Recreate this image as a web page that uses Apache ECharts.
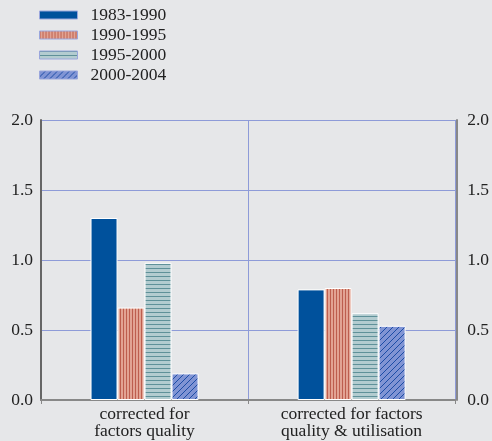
<!DOCTYPE html>
<html><head><meta charset="utf-8">
<script src="https://cdn.jsdelivr.net/npm/echarts@6/dist/echarts.min.js"></script>
<style>html,body{margin:0;padding:0;background:#e6e7e9;}#c{width:492px;height:441px;}</style>
</head><body><div id="c"></div>
<script>
const categories = ['corrected for\nfactors quality', 'corrected for factors\nquality & utilisation'];
const seriesNames = ['1983-1990', '1990-1995', '1995-2000', '2000-2004'];
const s1983 = [1.30, 0.79];
const s1990 = [0.66, 0.80];
const s1995 = [0.98, 0.62];
const s2000 = [0.19, 0.53];
const yTicks = [0, 0.5, 1.0, 1.5, 2.0];

function pat(w, h, draw) {
  const c = document.createElement('canvas');
  c.width = w; c.height = h;
  const g = c.getContext('2d');
  draw(g, w, h);
  return { image: c, repeat: 'repeat' };
}
const fill1 = '#00519c';
const fill2 = pat(3, 3, (g, w, h) => { g.fillStyle = '#e2a393'; g.fillRect(0,0,w,h); g.fillStyle = '#bd5e4e'; g.fillRect(0,0,1,h); });
const fill3 = pat(4, 4, (g, w, h) => { g.fillStyle = '#b3ccd0'; g.fillRect(0,0,w,h); g.fillStyle = '#5f9199'; g.fillRect(0,0,w,1); });
const fill4 = pat(6, 6, (g, w, h) => {
  g.fillStyle = '#8094d4'; g.fillRect(0,0,w,h);
  g.strokeStyle = '#1d4da6'; g.lineWidth = 1;
  for (let k = -1; k <= 1; k++) { g.beginPath(); g.moveTo(k*w, h); g.lineTo(k*w + w, 0); g.stroke(); }
});
const fills = [fill1, fill2, fill3, fill4];
const datas = [s1983, s1990, s1995, s2000];

const font = 'Liberation Serif';
const chart = echarts.init(document.getElementById('c'));
chart.setOption({
  backgroundColor: '#e6e7e9',
  animation: false,
  legend: {
    orient: 'vertical', left: 34, top: 1,
    icon: 'rect',
    itemWidth: 38, itemHeight: 8, itemGap: 2,
    textStyle: { fontFamily: font, fontSize: 17.5, lineHeight: 18, color: '#222', padding: [0,0,0,8] },
    itemStyle: { borderColor: '#9aa6dc', borderWidth: 1 },
    data: seriesNames
  },
  grid: { left: 41, right: 35, top: 120, bottom: 41 },
  xAxis: {
    type: 'category', data: categories,
    axisLine: { lineStyle: { color: '#888', width: 2 } },
    axisTick: { show: true, length: 4, lineStyle: { color: '#888' } },
    axisLabel: { fontFamily: font, fontSize: 17.5, color: '#222', margin: 6, lineHeight: 17 },
    splitLine: { show: true, lineStyle: { color: '#8e9bd8', width: 1 } }
  },
  yAxis: [{
    type: 'value', min: 0, max: 2, interval: 0.5,
    axisLine: { show: true, lineStyle: { color: '#666', width: 2 } },
    axisTick: { show: false },
    axisLabel: { fontFamily: font, fontSize: 17.5, color: '#222', margin: 8, formatter: v => v.toFixed(1) },
    splitLine: { show: true, lineStyle: { color: '#8e9bd8', width: 1 } }
  }, {
    type: 'value', min: 0, max: 2, interval: 0.5, position: 'right', offset: 2,
    axisLine: { show: true, lineStyle: { color: '#888', width: 2 } },
    axisTick: { show: false },
    axisLabel: { fontFamily: font, fontSize: 17.5, color: '#222', margin: 10, formatter: v => v.toFixed(1) },
    splitLine: { show: false }
  }],
  series: seriesNames.map((n, i) => ({
    name: n, type: 'bar', data: datas[i], barWidth: 27, barGap: '0%',
    itemStyle: { color: fills[i], borderColor: '#ffffff', borderWidth: 1 }
  }))
});
</script></body></html>
